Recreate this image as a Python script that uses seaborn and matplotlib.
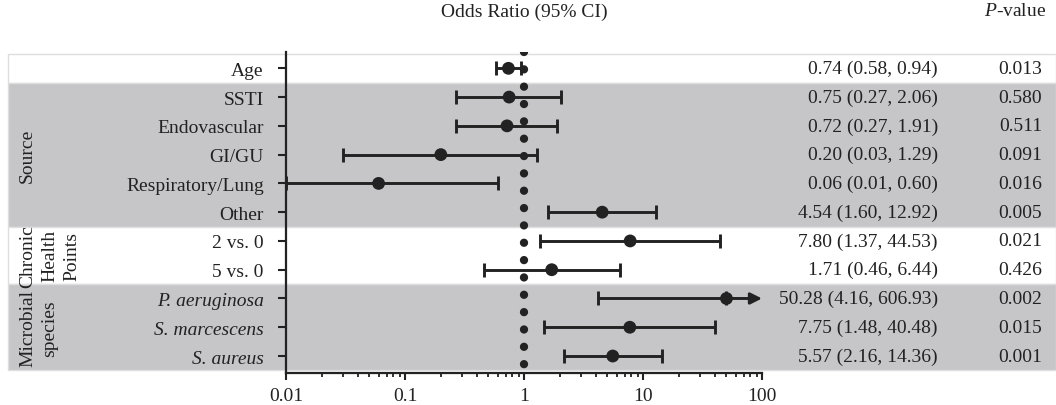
import numpy as np
import pandas as pd
import matplotlib
matplotlib.use("Agg")
import matplotlib.pyplot as plt
import seaborn as sns
from matplotlib.transforms import blended_transform_factory
from matplotlib.patches import Rectangle

# ---------------- data ----------------
labels = ["Age", "SSTI", "Endovascular", "GI/GU", "Respiratory/Lung", "Other",
          "2 vs. 0", "5 vs. 0", "P. aeruginosa", "S. marcescens", "S. aureus"]
odds = [0.74, 0.75, 0.72, 0.20, 0.06, 4.54, 7.80, 1.71, 50.28, 7.75, 5.57]
ci_low = [0.58, 0.27, 0.27, 0.03, 0.01, 1.60, 1.37, 0.46, 4.16, 1.48, 2.16]
ci_high = [0.94, 2.06, 1.91, 1.29, 0.60, 12.92, 44.53, 6.44, 606.93, 40.48, 14.36]
p_values = ["0.013", "0.580", "0.511", "0.091", "0.016", "0.005",
            "0.021", "0.426", "0.002", "0.015", "0.001"]
italic_rows = [False] * 8 + [True] * 3
group_names = ["", "Source", "Chronic\nHealth\nPoints", "Microbial\nspecies"]
group_first = [0, 1, 6, 8]
group_last = [0, 5, 7, 10]
group_shaded = [False, True, False, True]
x_ticks = [0.01, 0.1, 1, 10, 100]
x_tick_labels = ["0.01", "0.1", "1", "10", "100"]
x_min, x_max = 0.01, 100
title = "Odds Ratio (95% CI)"
p_header = "$P$-value"

df = pd.DataFrame({"label": labels, "odds": odds, "lo": ci_low, "hi": ci_high,
                   "p": p_values, "row": np.arange(len(labels))})

# ---------------- style ----------------
sns.set_theme(style="white")
plt.rcParams["font.family"] = ["Liberation Serif", "DejaVu Serif"]
plt.rcParams["mathtext.fontset"] = "custom"
plt.rcParams["mathtext.rm"] = "Liberation Serif"
plt.rcParams["mathtext.it"] = "Liberation Serif:italic"
INK = "#222222"
GREY = "#c6c6c8"
FS = 14

W, H = 1056, 406
fig = plt.figure(figsize=(W / 100, H / 100), dpi=100)
fig.patch.set_facecolor("white")
ax = fig.add_axes([286 / W, 1 - 374 / H, 476 / W, 321 / H])
ax.patch.set_alpha(0)

# background bands spanning the figure width
band_tr = blended_transform_factory(fig.transFigure, ax.transData)
for first, last, shaded in zip(group_first, group_last, group_shaded):
    ax.add_patch(Rectangle((8 / W, first - 0.5), 1 - 8 / W, last - first + 1,
                           transform=band_tr, facecolor=GREY if shaded else "white",
                           edgecolor="#dedede", lw=1.0, zorder=0, clip_on=False))

# reference line at OR = 1 (dotted)
ax.axvline(1, ymin=1, ymax=0, color=INK, lw=6, linestyle=(0, (0.001, 2.08)),
           dash_capstyle="round", zorder=2)

# confidence intervals
LW = 2.1
for _, r in df.iterrows():
    if r.hi > x_max:
        ax.errorbar(r.odds, r.row, xerr=[[r.odds - r.lo], [0]], fmt="none",
                    ecolor=INK, elinewidth=LW, capsize=4.7, capthick=LW, zorder=3)
        ax.annotate("", xy=(x_max, r.row), xytext=(r.odds, r.row),
                    arrowprops=dict(arrowstyle="-|>", lw=LW, color=INK,
                                    mutation_scale=17, shrinkA=0, shrinkB=0),
                    annotation_clip=False, zorder=3)
    else:
        ax.errorbar(r.odds, r.row, xerr=[[r.odds - r.lo], [r.hi - r.odds]], fmt="none",
                    ecolor=INK, elinewidth=LW, capsize=4.7, capthick=LW, zorder=3,
                    clip_on=False)

# point estimates
sns.scatterplot(data=df, x="odds", y="row", ax=ax, s=85, color=INK,
                edgecolor="none", zorder=4, legend=False)

ax.set_xscale("log")
ax.set_xlim(x_min, x_max)
ax.set_ylim(len(labels) - 1 + 0.59, -0.567)
ax.set_xticks(x_ticks)
ax.set_xticklabels(x_tick_labels, fontsize=FS, color=INK)
ax.set_yticks(df["row"])
ax.set_yticklabels(labels, fontsize=FS, color=INK)
for tl, it in zip(ax.get_yticklabels(), italic_rows):
    if it:
        tl.set_fontstyle("italic")
ax.set_xlabel("")
ax.set_ylabel("")
for s in ["top", "right"]:
    ax.spines[s].set_visible(False)
for s in ["left", "bottom"]:
    ax.spines[s].set_color(INK)
    ax.spines[s].set_linewidth(1.6)
ax.tick_params(axis="x", which="major", direction="out", length=5, width=1.5,
               color=INK, pad=5, bottom=True)
ax.tick_params(axis="x", which="minor", direction="out", length=2.8, width=1.3,
               color=INK, bottom=True)
ax.tick_params(axis="y", direction="out", length=5.5, width=1.5, color=INK,
               pad=10.5, left=True)
ax.grid(False)

# right-hand columns
for _, r in df.iterrows():
    ax.text(938 / W, r.row, f"{r.odds:.2f} ({r.lo:.2f}, {r.hi:.2f})",
            transform=band_tr, ha="right", va="center", fontsize=FS, color=INK)
    ax.text(1042 / W, r.row, r.p, transform=band_tr, ha="right", va="center",
            fontsize=FS, color=INK)

# group labels (rotated)
for name, first, last in zip(group_names, group_first, group_last):
    if name:
        ax.text(19 / W, (first + last) / 2, name, transform=band_tr, rotation=90,
                ha="left", va="center", multialignment="center", fontsize=FS,
                color=INK, linespacing=1.4)

# headers
hdr_tr = blended_transform_factory(ax.transData, fig.transFigure)
ax.text(1, 1 - 12 / H, title, transform=hdr_tr, ha="center", va="center",
        fontsize=FS, color=INK)
fig.text(1046 / W, 1 - 12 / H, p_header, ha="right", va="center", fontsize=FS,
         color=INK)

fig.savefig("out.png", dpi=100, facecolor="white")
